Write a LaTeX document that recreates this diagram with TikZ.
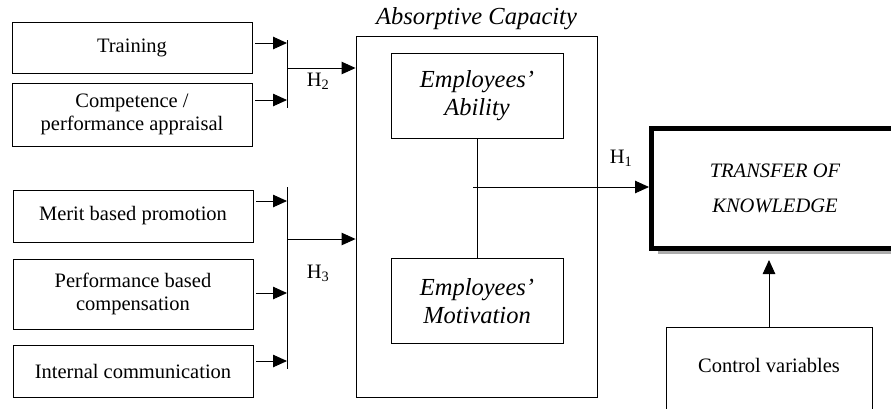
\documentclass[tikz,border=0pt]{standalone}
\usepackage{fontspec}
\setmainfont{Liberation Serif}[ItalicFont=Liberation Serif Italic]
\usetikzlibrary{arrows.meta,positioning,shadows}

\begin{document}
\begin{tikzpicture}[x=1pt,y=-1pt,
    box/.style={draw,line width=0.9pt,fill=white,align=center,inner sep=2pt,
        font=\fontsize{20.5}{23.5}\selectfont},
    inbox/.style={box,minimum width=240pt},
    acbox/.style={box,minimum width=172pt,minimum height=85pt,
        font=\itshape\fontsize{24.5}{28.5}\selectfont},
    hlab/.style={inner sep=0pt,font=\fontsize{20.5}{24}\selectfont},
    arr/.style={-{Triangle[length=14pt,width=12.5pt]},line width=0.9pt},
    bar/.style={line width=0.9pt}]
    \useasboundingbox (0,0) rectangle (891,408);
    \clip (0,0) rectangle (891,408);
    %%% INPUT BOXES %%%
    \node[inbox,minimum height=51pt] (trg) at (132,47.5) {Training};
    \node[inbox,minimum height=63pt] (cmp) at (132,114.5) {Competence /\\performance appraisal};
    \node[inbox,minimum height=52pt] (mrt) at (133,216) {Merit based promotion};
    \node[inbox,minimum height=70pt] (pfc) at (133,294) {Performance based\\compensation};
    \node[inbox,minimum height=52pt] (icm) at (133,371) {Internal communication};
    %%% ABSORPTIVE CAPACITY %%%
    \node[box,minimum width=241pt,minimum height=361pt] (abs) at (476.5,216.5) {};
    \node[above=6pt of abs,inner sep=0pt,font=\itshape\fontsize{24.5}{28}\selectfont] (abstitle) {Absorptive Capacity};
    \node[acbox] (abl) at (477,95.5) {Employees'\\Ability};
    \node[acbox] (mtv) at (477,301) {Employees'\\Motivation};
    \draw[bar] (abl) -- (mtv);
    %%% TRANSFER OF KNOWLEDGE %%%
    \node[draw,line width=5pt,fill=white,minimum width=247pt,minimum height=119.5pt,align=center,
        drop shadow={shadow xshift=6pt,shadow yshift=-6pt,fill=gray!65,opacity=1},
        font=\itshape\fontsize{20.5}{35}\selectfont] (tok) at (775,188.25) {TRANSFER OF\\KNOWLEDGE};
    \node[box,minimum width=206pt,minimum height=110pt,anchor=north] (ctl) at (769,327) {};
    \node[inner sep=0pt,font=\fontsize{20.5}{24}\selectfont] (ctltxt) at ([yshift=-38pt]ctl.north) {Control variables};
    %%% BARS AND ARROWS %%%
    % H2 %
    \coordinate (bar2top) at (287,40);
    \coordinate (bar2bot) at (287,108);
    \coordinate (h2out) at (287,68);
    \draw[bar] (bar2top) -- (bar2bot);
    \foreach \src/\yy in {trg/43,cmp/100}
        \draw[arr,shorten <=3pt] (\src.east |- 287,\yy) -- (287,\yy);
    \draw[arr] (h2out) -- (h2out -| abs.west);
    \node[hlab] (h2) at (318,81) {H\textsubscript{2}};
    % H3 %
    \coordinate (bar3top) at (287,187);
    \coordinate (bar3bot) at (287,369);
    \coordinate (h3out) at (287,239);
    \draw[bar] (bar3top) -- (bar3bot);
    \foreach \src/\yy in {mrt/201,pfc/293,icm/361}
        \draw[arr,shorten <=3pt] (\src.east |- 287,\yy) -- (287,\yy);
    \draw[arr] (h3out) -- (h3out -| abs.west);
    \node[hlab] (h3) at (318,273) {H\textsubscript{3}};
    % H1 %
    \coordinate (jn) at (473,187);
    \draw[arr] (jn) -- (jn -| tok.west);
    \node[hlab] (h1) at (621,158) {H\textsubscript{1}};
    % control variables %
    \draw[arr,shorten >=9.5pt] (ctl.north) -- (ctl.north |- tok.south);
\end{tikzpicture}
\end{document}
